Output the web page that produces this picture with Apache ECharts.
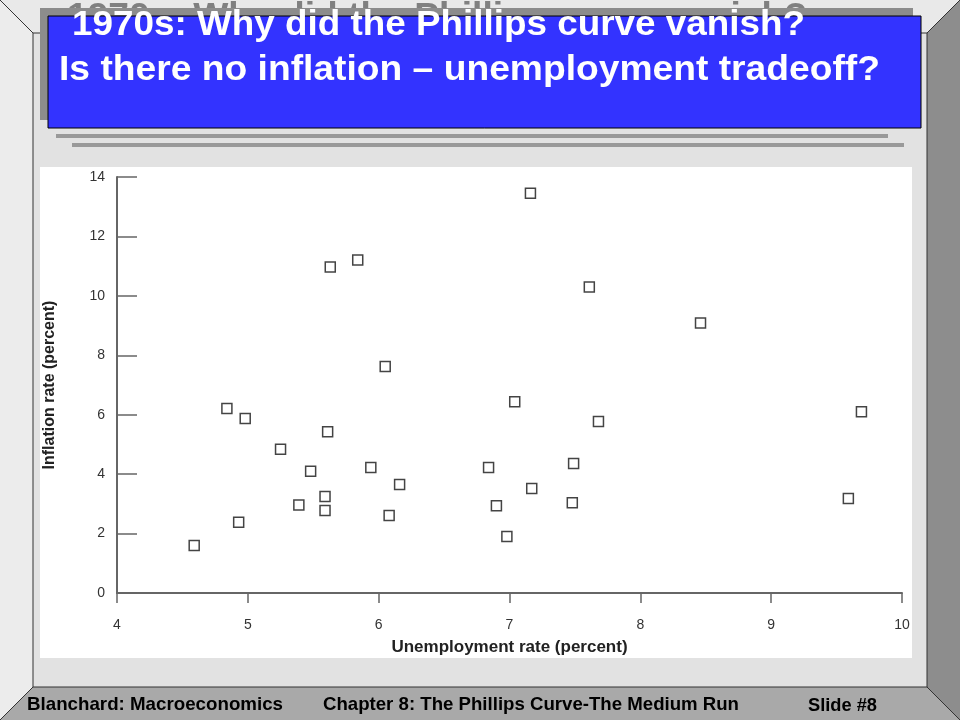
<!DOCTYPE html>
<html>
<head>
<meta charset="utf-8">
<script src="https://cdn.jsdelivr.net/npm/echarts@6/dist/echarts.min.js"></script>
<style>
html,body{margin:0;padding:0;background:#e4e4e4;}
#main{width:960px;height:720px;}
</style>
</head>
<body>
<div id="main"></div>
<script>
// ---- Data ----
var unemployment = [4.59, 4.93, 4.84, 4.98, 5.25, 5.48, 5.39, 5.59, 5.59, 5.61, 5.63, 5.84, 5.94, 6.05, 6.08, 6.16,
                    6.84, 6.90, 6.98, 7.04, 7.16, 7.17, 7.48, 7.49, 7.61, 7.68, 8.46, 9.59, 9.69];
var inflation    = [1.60, 2.38, 6.21, 5.87, 4.84, 4.10, 2.96, 3.25, 2.78, 5.43, 10.97, 11.21, 4.22, 7.62, 2.61, 3.65,
                    4.22, 2.94, 1.90, 6.44, 13.45, 3.52, 3.04, 4.36, 10.30, 5.77, 9.09, 3.18, 6.10];
var xTicks = [4, 5, 6, 7, 8, 9, 10];
var yTicks = [0, 2, 4, 6, 8, 10, 12, 14];
var titleLine1 = '1970s: Why did the Phillips curve vanish?';
var titleLine2 = 'Is there no inflation \u2013 unemployment tradeoff?';
var ghostTitle = '1970s: Why did the Phillips curve vanish?';
var footerLeft = 'Blanchard: Macroeconomics';
var footerMid = 'Chapter 8: The Phillips Curve-The Medium Run';
var footerRight = 'Slide #8';
var xName = 'Unemployment rate (percent)';
var yName = 'Inflation rate (percent)';

var FONT = "'Liberation Sans', Arial, sans-serif";
var mctx = document.createElement('canvas').getContext('2d');
function fit(text, font, width) {
  mctx.font = font;
  return width / mctx.measureText(text).width;
}
var points = unemployment.map(function (u, i) { return [u, inflation[i]]; });

var tFont = 'bold 35px ' + FONT;
var fFont = 'bold 19px ' + FONT;

var chart = echarts.init(document.getElementById('main'), null, {renderer: 'canvas'});
chart.setOption({
  backgroundColor: '#e4e4e4',
  animation: false,
  graphic: [
    // bevels
    {type: 'polygon', z: -10, shape: {points: [[0,0],[960,0],[927,33],[33,33]]}, style: {fill: '#e9e9e9'}},
    {type: 'polygon', z: -10, shape: {points: [[0,0],[33,33],[33,687],[0,720]]}, style: {fill: '#ececec'}},
    {type: 'polygon', z: -10, shape: {points: [[927,33],[960,0],[960,720],[927,687]]}, style: {fill: '#8d8d8d'}},
    {type: 'polygon', z: -10, shape: {points: [[0,720],[33,687],[927,687],[960,720]]}, style: {fill: '#a9a9a9'}},
    {type: 'rect', z: -10, shape: {x: 33, y: 33, width: 894, height: 654}, style: {fill: '#e2e2e2', stroke: '#333', lineWidth: 1}},
    {type: 'line', z: -9, shape: {x1: 0, y1: 0, x2: 33, y2: 33}, style: {stroke: '#333', lineWidth: 1}},
    {type: 'line', z: -9, shape: {x1: 960, y1: 0, x2: 927, y2: 33}, style: {stroke: '#333', lineWidth: 1}},
    {type: 'line', z: -9, shape: {x1: 0, y1: 720, x2: 33, y2: 687}, style: {stroke: '#333', lineWidth: 1}},
    {type: 'line', z: -9, shape: {x1: 960, y1: 720, x2: 927, y2: 687}, style: {stroke: '#333', lineWidth: 1}},
    // white plot area
    {type: 'rect', z: -8, shape: {x: 40, y: 167, width: 872, height: 491}, style: {fill: '#ffffff'}},
    // ghost title
    {type: 'text', z: 5, x: 67, y: 0, scaleX: fit(ghostTitle, tFont, 740),
     style: {text: ghostTitle, font: tFont, fill: '#808080', textVerticalAlign: 'top'}},
    // title boxes
    {type: 'rect', z: 6, shape: {x: 40, y: 8, width: 873, height: 112}, style: {fill: '#8c8c8c'}},
    {type: 'rect', z: 7, shape: {x: 48, y: 16, width: 873, height: 112}, style: {fill: '#3333ff', stroke: '#000', lineWidth: 1}},
    {type: 'text', z: 8, x: 72, y: 25, scaleX: fit(titleLine1, tFont, 733),
     style: {text: titleLine1, font: tFont, fill: '#ffffff', textVerticalAlign: 'middle'}},
    {type: 'text', z: 8, x: 59, y: 70, scaleX: fit(titleLine2, tFont, 821),
     style: {text: titleLine2, font: tFont, fill: '#ffffff', textVerticalAlign: 'middle'}},
    // gray rules
    {type: 'rect', z: 6, shape: {x: 56, y: 134, width: 832, height: 4}, style: {fill: '#999999'}},
    {type: 'rect', z: 6, shape: {x: 72, y: 143, width: 832, height: 4}, style: {fill: '#999999'}},
    // footer
    {type: 'text', z: 8, x: 27, y: 705, scaleX: fit(footerLeft, fFont, 256),
     style: {text: footerLeft, font: fFont, fill: '#000', textVerticalAlign: 'middle'}},
    {type: 'text', z: 8, x: 323, y: 705, scaleX: fit(footerMid, fFont, 416),
     style: {text: footerMid, font: fFont, fill: '#000', textVerticalAlign: 'middle'}},
    {type: 'text', z: 8, x: 808, y: 706, scaleX: fit(footerRight, fFont, 69),
     style: {text: footerRight, font: fFont, fill: '#000', textVerticalAlign: 'middle'}}
  ],
  grid: {left: 117, right: 58, top: 177, bottom: 127, containLabel: false},
  xAxis: {
    type: 'value', min: xTicks[0], max: xTicks[xTicks.length - 1], interval: 1,
    name: xName, nameLocation: 'middle', nameGap: 46,
    nameTextStyle: {fontFamily: FONT, fontWeight: 'bold', fontSize: 17, color: '#222'},
    axisLine: {show: true, lineStyle: {color: '#666', width: 2}},
    axisTick: {show: true, inside: false, length: 10, lineStyle: {color: '#666', width: 1.5}},
    axisLabel: {margin: 25, fontFamily: FONT, fontSize: 14, color: '#333'},
    splitLine: {show: false}
  },
  yAxis: {
    type: 'value', min: yTicks[0], max: yTicks[yTicks.length - 1], interval: 2,
    name: yName, nameLocation: 'middle', nameGap: 59, nameRotate: 90,
    nameTextStyle: {fontFamily: FONT, fontWeight: 'bold', fontSize: 16, color: '#222'},
    axisLine: {show: true, lineStyle: {color: '#666', width: 2}},
    axisTick: {show: true, inside: true, length: 20, lineStyle: {color: '#666', width: 1.5}},
    axisLabel: {margin: 12, fontFamily: FONT, fontSize: 14, color: '#333'},
    splitLine: {show: false}
  },
  series: [{
    type: 'scatter',
    data: points,
    symbol: 'rect',
    symbolSize: 10,
    itemStyle: {color: '#ffffff', borderColor: '#444', borderWidth: 1.5, opacity: 1}
  }]
});
</script>
</body>
</html>
